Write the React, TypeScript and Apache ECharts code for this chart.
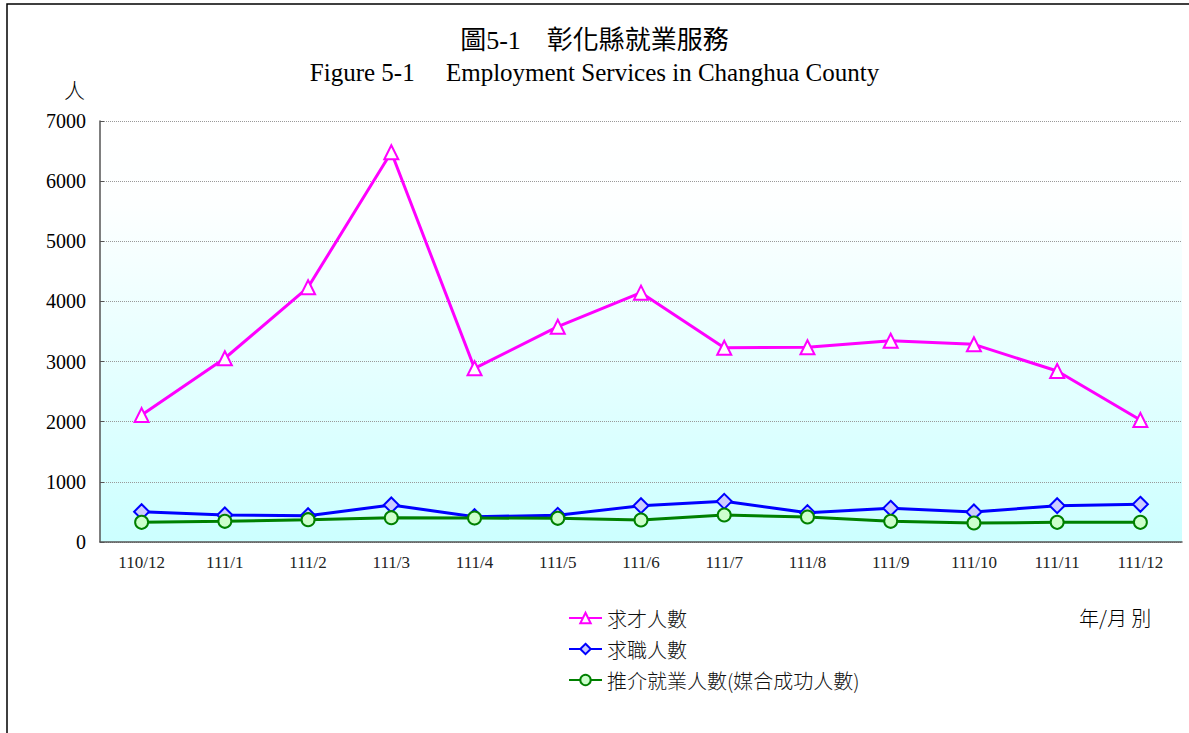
import React, { useEffect, useRef } from "react";
import * as echarts from "echarts";

const categories = ["110/12", "111/1", "111/2", "111/3", "111/4", "111/5", "111/6", "111/7", "111/8", "111/9", "111/10", "111/11", "111/12"];
const jobOpenings = [2110, 3055, 4235, 6480, 2888, 3580, 4146, 3231, 3237, 3347, 3287, 2843, 2029];
const jobSeekers = [504, 449, 437, 615, 421, 443, 604, 676, 488, 560, 499, 604, 627];
const placements = [327, 344, 371, 404, 399, 394, 366, 449, 416, 344, 316, 327, 327];
const seriesNames = ["求才人數", "求職人數", "推介就業人數(媒合成功人數)"];
const yTicks = { min: 0, max: 7000, interval: 1000 };

const SERIF = "'Liberation Serif', 'Times New Roman', 'Noto Sans CJK TC', serif";
const CJK = "'Noto Sans CJK TC', sans-serif";

export default function App() {
  const ref = useRef<HTMLDivElement>(null);
  useEffect(() => {
    if (!ref.current) return;
    const chart = echarts.init(ref.current, undefined, { renderer: "svg" });
    chart.setOption({
      animation: false,
      backgroundColor: "#ffffff",
      title: [
        {
          text: "圖5-1　彰化縣就業服務",
          left: "center",
          top: 22,
          textStyle: { fontFamily: SERIF, fontSize: 26, fontWeight: "normal", color: "#000" },
        },
        {
          text: "Figure 5-1　 Employment Services in Changhua County",
          left: "center",
          top: 55,
          textStyle: { fontFamily: SERIF, fontSize: 25, fontWeight: "normal", color: "#000" },
        },
      ],
      grid: {
        left: 100,
        right: 7,
        top: 121,
        bottom: 191,
        show: true,
        borderWidth: 0,
        backgroundColor: new echarts.graphic.LinearGradient(0, 0, 0, 1, [
          { offset: 0, color: "#ffffff" },
          { offset: 0.2, color: "#fdffff" },
          { offset: 1, color: "#ccffff" },
        ]),
      },
      legend: {
        orient: "vertical",
        left: 563,
        top: 603,
        itemWidth: 33,
        itemHeight: 13,
        itemGap: 11,
        textStyle: { fontFamily: CJK, fontSize: 20, fontWeight: 300, color: "#111" },
        data: seriesNames,
      },
      xAxis: {
        type: "category",
        data: categories,
        boundaryGap: true,
        axisLine: { lineStyle: { color: "#555", width: 1.5 } },
        axisTick: { inside: true, length: 6, lineStyle: { color: "#555" } },
        axisLabel: { fontFamily: SERIF, fontSize: 17, color: "#222", margin: 12 },
      },
      yAxis: {
        type: "value",
        min: yTicks.min,
        max: yTicks.max,
        interval: yTicks.interval,
        axisLine: { show: true, lineStyle: { color: "#555", width: 1.5 } },
        axisTick: { show: true, inside: true, length: 4, lineStyle: { color: "#555" } },
        axisLabel: {
          fontFamily: SERIF,
          fontSize: 20,
          color: "#000",
          margin: 14,
          formatter: (v: number) => String(v),
        },
        splitLine: { show: true, lineStyle: { color: "#999", type: "dotted", width: 1 } },
      },
      series: [
        {
          name: seriesNames[0],
          type: "line",
          data: jobOpenings,
          symbol: "triangle",
          symbolSize: 14,
          lineStyle: { color: "#ff00ff", width: 3 },
          itemStyle: { color: "#ffffff", borderColor: "#ff00ff", borderWidth: 2 },
          color: "#ff00ff",
          z: 3,
        },
        {
          name: seriesNames[1],
          type: "line",
          data: jobSeekers,
          symbol: "diamond",
          symbolSize: 15,
          lineStyle: { color: "#0000ff", width: 3 },
          itemStyle: { color: "#ccccff", borderColor: "#0000ff", borderWidth: 2 },
          color: "#0000ff",
          z: 2,
        },
        {
          name: seriesNames[2],
          type: "line",
          data: placements,
          symbol: "circle",
          symbolSize: 13,
          lineStyle: { color: "#008000", width: 3 },
          itemStyle: { color: "#ccffcc", borderColor: "#008000", borderWidth: 2 },
          color: "#008000",
          z: 4,
        },
      ],
      graphic: [
        {
          type: "rect",
          shape: { x: 7, y: 4, width: 1200, height: 800 },
          style: { fill: "none", stroke: "#000", lineWidth: 1.5 },
          silent: true,
        },
        {
          type: "text",
          x: 64,
          y: 78,
          style: { text: "人", fontFamily: CJK, fontSize: 21, fontWeight: 300, fill: "#000" },
        },
        {
          type: "text",
          x: 1079,
          y: 607,
          style: { text: "年/月 別", fontFamily: CJK, fontSize: 20, fontWeight: 300, fill: "#000" },
        },
      ],
    });
    return () => chart.dispose();
  }, []);
  return (
    <div
      ref={ref}
      style={{ position: "absolute", left: 0, top: 0, width: 1189, height: 733 }}
    />
  );
}
